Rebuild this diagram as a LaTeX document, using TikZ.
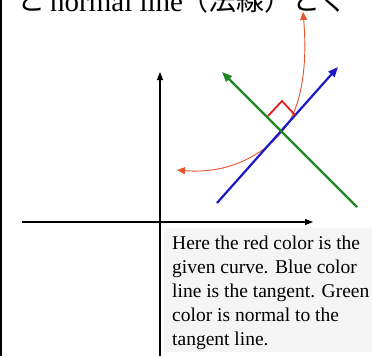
\documentclass[tikz,border=0pt]{standalone}
\usepackage{fontspec}
\setmainfont{Liberation Serif}
\newfontfamily\jafont{Noto Sans CJK JP}
\usetikzlibrary{arrows.meta}

\definecolor{curvered}{RGB}{228,84,40}
\definecolor{anglered}{RGB}{222,30,30}
\definecolor{tanblue}{RGB}{25,25,200}
\definecolor{normgreen}{RGB}{30,135,35}

\tikzset{
  axisline/.style={line width=1.3pt, black, -{Triangle[length=8pt,width=6pt]}},
  tanline/.style={line width=2.2pt, tanblue, -{Triangle[length=10pt,width=8pt]}},
  normline/.style={line width=2.2pt, normgreen, -{Triangle[length=10pt,width=8pt]}},
  curveline/.style={line width=0.9pt, curvered, {Triangle[length=8pt,width=7pt]}-{Triangle[length=8pt,width=7pt]}},
  notetext/.style={font=\fontsize{19.5}{24}\selectfont, align=left, inner sep=0, anchor=north west}
}

\begin{document}
\begin{tikzpicture}[x=1pt,y=-1pt]
    \useasboundingbox (0,0) rectangle (372,356);
    \fill[white] (0,0) rectangle (372,356);

    % line of text above, cut by the page
    \node[font={\jafont\fontsize{28}{28}\selectfont}, anchor=base west, inner sep=0] (topa) at (17,10) {と};
    \node[font={\fontsize{29}{29}\selectfont}, anchor=base west, inner sep=0] (topb) at (50,12) {normal line};
    \node[font={\jafont\fontsize{28}{28}\selectfont}, anchor=base west, inner sep=0] (topc) at (180,10) {（法線）とく};

    \draw[line width=1.5pt] (1,0) -- (1,356);

    % axes
    \coordinate (ybot) at (160,356);
    \coordinate (ytop) at (160,72);
    \coordinate (xleft) at (22,222);
    \coordinate (xright) at (313,222);
    \draw[axisline] (ybot) -- (ytop);
    \draw[axisline] (xleft) -- (xright);

    % given curve
    \coordinate (cstart) at (177,170);
    \coordinate (ctouch) at (285,128);
    \coordinate (cend) at (303,12);
    \draw[curveline] (cstart) .. controls (225,174) and (262,158) .. (ctouch)
                              .. controls (300,108) and (308,70) .. (cend);

    % tangent and normal
    \coordinate (tana) at (217,203);
    \coordinate (tanb) at (338,67);
    \coordinate (nora) at (357,207);
    \coordinate (norb) at (222,72);
    \draw[tanline] (tana) -- (tanb);
    \draw[normline] (nora) -- (norb);

    % right angle mark
    \draw[anglered, line width=1.8pt] (268,116) -- (282,101) -- (295,115);

    % note
    \fill[black!4] (164,228) rectangle (372,352);
    \node[notetext] (note) at (172,236) {Here the red color is the\\
        given curve. Blue color\\
        line is the tangent. Green\\
        color is normal to the\\
        tangent line.};
\end{tikzpicture}
\end{document}
